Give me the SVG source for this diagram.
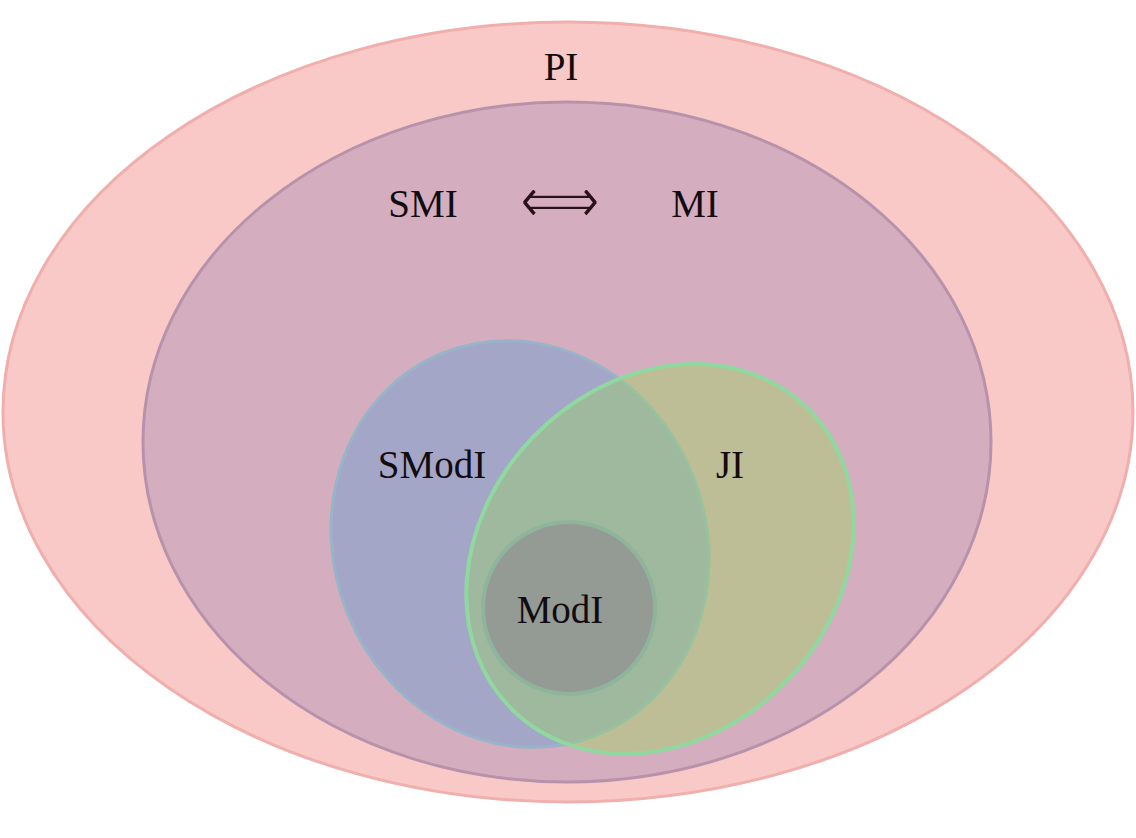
<svg xmlns="http://www.w3.org/2000/svg" width="1136" height="838" viewBox="0 0 1136 838">
<style>
.lbl{font-family:"Liberation Serif","DejaVu Serif",serif;font-size:39px;fill:#120c10;text-anchor:middle}
.arr{font-family:"DejaVu Sans","Noto Sans",sans-serif;font-size:66px;fill:#2a1018;stroke:#d4aebe;stroke-width:1.6;text-anchor:middle}
</style>
<rect width="1136" height="838" fill="#ffffff"/>
<g id="PI">
<ellipse cx="568" cy="412" rx="565" ry="390" fill="#f8c9c6" stroke="#f0aeac" stroke-width="3"/>
<text class="lbl" x="561" y="80">PI</text>
</g>
<g id="MI">
<ellipse cx="567" cy="442" rx="424" ry="340" fill="#d4aebe" stroke="#b892ab" stroke-width="3"/>
<text class="lbl" x="423" y="217">SMI</text>
<text class="arr" x="560" y="223" textLength="80" lengthAdjust="spacingAndGlyphs">⟺</text>
<text class="lbl" x="695" y="217">MI</text>
</g>
<g id="SModI">
<ellipse cx="520" cy="544" rx="186" ry="206" transform="rotate(-22 520 544)" fill="#a4a6c8" stroke="#98b4c8" stroke-width="3"/>
<text class="lbl" x="432" y="478">SModI</text>
</g>
<g id="JI">
<ellipse cx="660" cy="559" rx="176" ry="211" transform="rotate(44 660 559)" fill="#95dc4c" fill-opacity="0.35" stroke="#90d8a0" stroke-width="4"/>
<text class="lbl" x="730" y="478">JI</text>
</g>
<g id="ModI">
<circle cx="569" cy="608" r="86" fill="#949a94" stroke="#8fb49c" stroke-width="4"/>
<text class="lbl" x="560" y="623">ModI</text>
</g>
<g id="connectors"/>
</svg>
